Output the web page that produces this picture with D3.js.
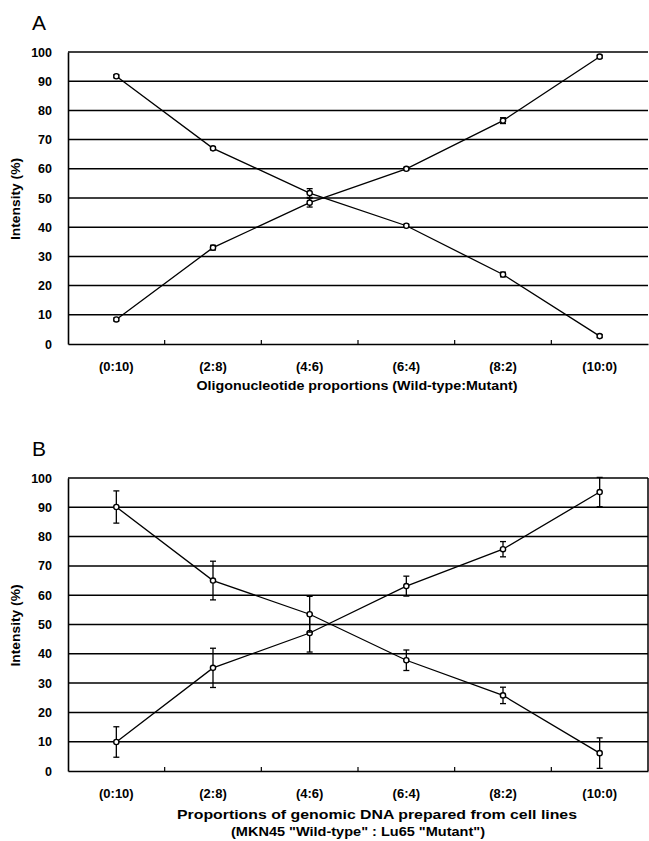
<!DOCTYPE html>
<html><head><meta charset="utf-8">
<script src="https://cdn.jsdelivr.net/npm/d3@7"></script>
<style>body{margin:0;background:#fff}svg{display:block}</style>
</head><body>
<svg id="c" width="649" height="841"></svg>
<script>
const categories = ["(0:10)","(2:8)","(4:6)","(6:4)","(8:2)","(10:0)"];
const yTicks = [0,10,20,30,40,50,60,70,80,90,100];
const aUp = [8.4, 33, 48.4, 60, 76.5, 98.4];
const aUpErr = [0.5, 0.8, 1.5, 0.5, 1, 0.5];
const aDown = [91.7, 67, 51.7, 40.5, 23.8, 2.7];
const aDownErr = [0.5, 0.5, 1.5, 0.5, 0.8, 0.5];
const bUp = [9.9, 35.2, 47.1, 63.1, 75.7, 95.2];
const bUpErr = [5.2, 6.7, 6.5, 3.4, 2.6, 5];
const bDown = [90.1, 65, 53.5, 37.8, 25.8, 6.1];
const bDownErr = [5.5, 6.6, 6.1, 3.5, 2.8, 5.2];

const svg = d3.select("#c");
const font = "'Liberation Sans', Arial, sans-serif";

function panel(opt){
  const g = svg.append("g");
  const x = d3.scaleBand().domain(categories).range([68, 648]);
  const y = d3.scaleLinear().domain([0,100]).range([opt.bottom, opt.top]);
  g.append("text").attr("x",32).attr("y",opt.top-22).text(opt.letter)
    .attr("font-family",font).attr("font-size",21).attr("fill","#000");
  g.selectAll("line.grid").data(yTicks.filter(d=>d>0)).join("line")
    .attr("x1",68).attr("x2",648).attr("y1",d=>y(d)).attr("y2",d=>y(d))
    .attr("stroke","#000").attr("stroke-width",1.5);
  const ya = g.append("g").attr("transform","translate(68,0)")
    .call(d3.axisLeft(y).tickValues(yTicks).tickSize(0).tickPadding(16));
  ya.select(".domain").attr("stroke","#000").attr("stroke-width",1.6);
  ya.selectAll("text").attr("font-family",font).attr("font-weight","bold").attr("font-size",12.5).attr("fill","#000");
  const xa = g.append("g").attr("transform",`translate(0,${opt.bottom})`)
    .call(d3.axisBottom(x).tickSize(0).tickPadding(18));
  xa.select(".domain").attr("stroke","#000").attr("stroke-width",1.6);
  xa.selectAll("text").attr("font-family",font).attr("font-weight","bold").attr("font-size",13).attr("fill","#000");
  g.selectAll("line.bt").data(categories.slice(1)).join("line")
    .attr("x1",d=>x(d)).attr("x2",d=>x(d)).attr("y1",opt.bottom).attr("y2",opt.bottom-4)
    .attr("stroke","#000").attr("stroke-width",1.2);
  if(opt.rightBorder){
    g.append("line").attr("x1",648).attr("x2",648).attr("y1",y(100)).attr("y2",y(0))
      .attr("stroke","#000").attr("stroke-width",1.5);
  }
  g.append("text").attr("transform",`translate(20,${(opt.top+opt.bottom)/2+1}) rotate(-90)`)
    .attr("text-anchor","middle").attr("textLength",82).attr("lengthAdjust","spacingAndGlyphs").text("Intensity (%)")
    .attr("font-family",font).attr("font-weight","bold").attr("font-size",13).attr("fill","#000");
  opt.xTitles.forEach(t=>{
    g.append("text").attr("x",t.cx).attr("y",t.y).attr("text-anchor","middle")
      .attr("textLength",t.w).attr("lengthAdjust","spacingAndGlyphs").text(t.text)
      .attr("font-family",font).attr("font-weight","bold").attr("font-size",12.5).attr("fill","#000");
  });
  const line = d3.line().x((d,i)=>x(categories[i])+x.bandwidth()/2).y(d=>y(d));
  opt.series.forEach(s=>{
    g.append("path").attr("d",line(s.v)).attr("fill","none").attr("stroke","#000").attr("stroke-width",1.3);
    s.v.forEach((v,i)=>{
      const cx = x(categories[i])+x.bandwidth()/2;
      const e = s.e[i];
      g.append("line").attr("x1",cx).attr("x2",cx).attr("y1",y(v+e)).attr("y2",y(v-e)).attr("stroke","#000").attr("stroke-width",1.3);
      [v+e,v-e].forEach(t=>g.append("line").attr("x1",cx-3).attr("x2",cx+3).attr("y1",y(t)).attr("y2",y(t)).attr("stroke","#000").attr("stroke-width",1.3));
      g.append("circle").attr("cx",cx).attr("cy",y(v)).attr("r",2.6).attr("fill","#fff").attr("stroke","#000").attr("stroke-width",1.4);
    });
  });
}

panel({letter:"A", top:52, bottom:344, rightBorder:false,
  series:[{v:aUp,e:aUpErr},{v:aDown,e:aDownErr}],
  xTitles:[{text:"Oligonucleotide proportions (Wild-type:Mutant)", cx:357, y:390, w:321}]});
panel({letter:"B", top:478, bottom:771, rightBorder:true,
  series:[{v:bUp,e:bUpErr},{v:bDown,e:bDownErr}],
  xTitles:[{text:"Proportions of genomic DNA prepared from cell lines", cx:377, y:819, w:400},
           {text:"(MKN45 \"Wild-type\" : Lu65 \"Mutant\")", cx:358, y:836, w:254}]});
</script>
</body></html>
